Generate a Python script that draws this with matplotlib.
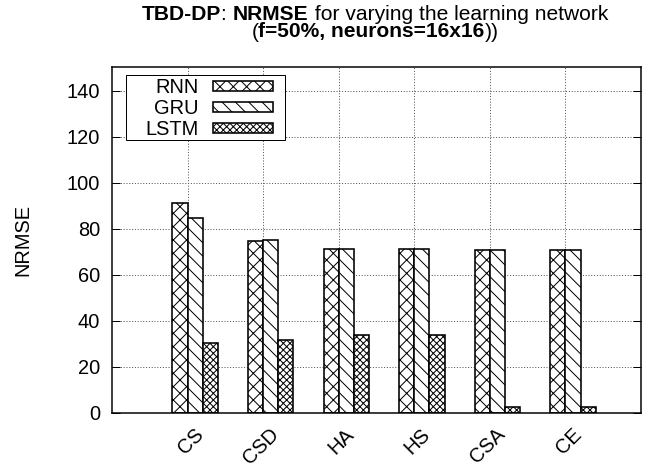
import matplotlib
matplotlib.use("Agg")
import matplotlib.pyplot as plt
import numpy as np
from matplotlib.patches import Rectangle
from matplotlib.transforms import ScaledTranslation

categories = ["CS", "CSD", "HA", "HS", "CSA", "CE"]
series_names = ["RNN", "GRU", "LSTM"]
rnn = [91.0, 74.8, 71.3, 71.3, 70.7, 70.7]
gru = [84.5, 75.2, 71.3, 71.3, 70.7, 70.7]
lstm = [30.2, 31.6, 33.8, 33.8, 2.5, 2.5]
yticks = [0, 20, 40, 60, 80, 100, 120, 140]

DPI = 80
PT = 72 / DPI  # points per pixel

plt.rcParams['font.family'] = ['Liberation Sans', 'DejaVu Sans']
plt.rcParams['hatch.linewidth'] = 1.0 * PT
FS = 20 * PT
TFS = 21 * PT

fig = plt.figure(figsize=(650 / DPI, 470 / DPI), dpi=DPI)
ax = fig.add_axes([0.1723, 0.1219, 0.9862 - 0.1723, 0.8564 - 0.1219])

x = np.arange(len(categories))
w = 0.2
hatches = ["xx", "\\\\", "xxxx"]
offsets = [-0.2, 0.0, 0.2]
for vals, name, h, off in zip([rnn, gru, lstm], series_names, hatches, offsets):
    ax.bar(x + off, vals, width=w, align='edge', facecolor='white',
           edgecolor='black', linewidth=1.6 * PT, hatch=h, label=name, zorder=3)

ax.set_xlim(-1, 6)
ax.set_ylim(0, 150)
ax.tick_params(axis='x', length=0, pad=4 * PT)
ax.tick_params(axis='y', direction='in', length=8 * PT, width=1 * PT, right=True, pad=12 * PT)
ax.set_yticks(yticks)
ax.set_yticklabels([str(v) for v in yticks], fontsize=FS)
ax.set_xticks(x)
ax.set_xticklabels(categories, fontsize=FS, rotation=45, ha='right',
                   rotation_mode='anchor')
for lbl in ax.get_xticklabels():
    lbl.set_transform(lbl.get_transform() + ScaledTranslation(6 / DPI, -8 / DPI, fig.dpi_scale_trans))
for s in ax.spines.values():
    s.set_linewidth(1.5 * PT)
    s.set_zorder(5)
ax.grid(True, linestyle=(0, (1, 1.8)), color='#555555', linewidth=1.0 * PT, zorder=0)
ax.set_axisbelow(True)

ax.set_ylabel("NRMSE", fontsize=FS)
ax.yaxis.set_label_coords(-(112 - 32) / 529, 0.5)

leg = ax.legend(loc='upper left', markerfirst=False, fontsize=FS, frameon=False,
                handlelength=3.0, handleheight=0.35, labelspacing=0.1,
                borderpad=0.1, handletextpad=0.7, borderaxespad=0.0,
                bbox_to_anchor=(0.06, 0.975))
leg.set_zorder(6)

# legend frame (gnuplot style, wider left padding)
renderer = fig.canvas.get_renderer()
bb = leg.get_window_extent(renderer)
inv = ax.transAxes.inverted()
(x0, y0) = inv.transform((bb.x0 - 18, bb.y0 + 1))
(x1, y1) = inv.transform((bb.x1 + 10, bb.y1 + 1))
ax.add_patch(Rectangle((x0, y0), x1 - x0, y1 - y0, transform=ax.transAxes,
                       facecolor='white', edgecolor='black', linewidth=1.0 * PT,
                       zorder=5.5))

# two-line title with mixed weights
def title_line(parts, ybase):
    texts = [fig.text(0, ybase, t, fontsize=TFS, fontweight=wt,
                      ha='left', va='baseline') for t, wt in parts]
    widths = [t.get_window_extent(renderer).width for t in texts]
    total = sum(widths)
    cur = 0.577 * fig.bbox.width - total / 2
    for t, wd in zip(texts, widths):
        t.set_x(cur / fig.bbox.width)
        cur += wd

title_line([("TBD-DP", 'bold'), (": ", 'normal'), ("NRMSE", 'bold'),
            (" for varying the learning network", 'normal')], 1 - 20 / 470)
title_line([("(", 'normal'), ("f=50%, neurons=16x16", 'bold'), ("))", 'normal')],
           1 - 37.5 / 470)

fig.savefig("out.png", dpi=DPI)
